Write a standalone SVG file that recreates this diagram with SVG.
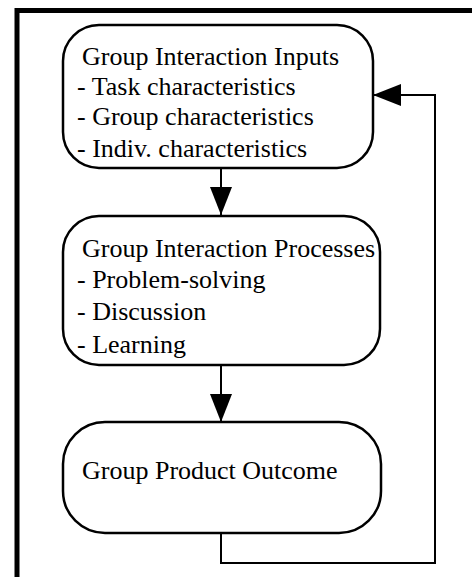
<svg xmlns="http://www.w3.org/2000/svg" width="472" height="577" viewBox="0 0 472 577">
  <style>
    .node { fill: #ffffff; stroke: #000000; stroke-width: 2.5; }
    .label { font-family: "Liberation Serif", "Times New Roman", serif; font-size: 26px; fill: #000000; }
    .wire { fill: none; stroke: #000000; stroke-width: 2; }
    .frame { fill: none; stroke: #000000; stroke-width: 5; }
  </style>
  <defs>
    <marker id="head" viewBox="0 0 28 22" refX="28" refY="11" markerWidth="28" markerHeight="22" markerUnits="userSpaceOnUse" orient="auto">
      <path d="M0,0 L28,11 L0,22 Z" fill="#000000"/>
    </marker>
  </defs>

  <rect width="472" height="577" fill="#ffffff"/>

  <!-- outer frame -->
  <path class="frame" d="M17,577 L17,10.5 L472,10.5"/>

  <!-- connectors -->
  <g id="connectors">
    <path class="wire" d="M221,168 L221,215" marker-end="url(#head)"/>
    <path class="wire" d="M221,365 L221,422" marker-end="url(#head)"/>
    <path class="wire" d="M221,533 L221,563 L435,563 L435,95 L373,95" marker-end="url(#head)"/>
  </g>

  <g id="inputs">
    <rect class="node" x="63" y="25" width="310" height="143" rx="36" ry="36"/>
    <text class="label" x="82" y="65">Group Interaction Inputs</text>
    <text class="label" x="77" y="95">- Task characteristics</text>
    <text class="label" x="77" y="125">- Group characteristics</text>
    <text class="label" x="77" y="157">- Indiv. characteristics</text>
  </g>

  <g id="processes">
    <rect class="node" x="63" y="216" width="317" height="149" rx="36" ry="36"/>
    <text class="label" x="82" y="257">Group Interaction Processes</text>
    <text class="label" x="77" y="288">- Problem-solving</text>
    <text class="label" x="77" y="320">- Discussion</text>
    <text class="label" x="77" y="353">- Learning</text>
  </g>

  <g id="outcome">
    <rect class="node" x="63" y="422" width="318" height="111" rx="42" ry="42"/>
    <text class="label" x="82" y="479">Group Product Outcome</text>
  </g>
</svg>
